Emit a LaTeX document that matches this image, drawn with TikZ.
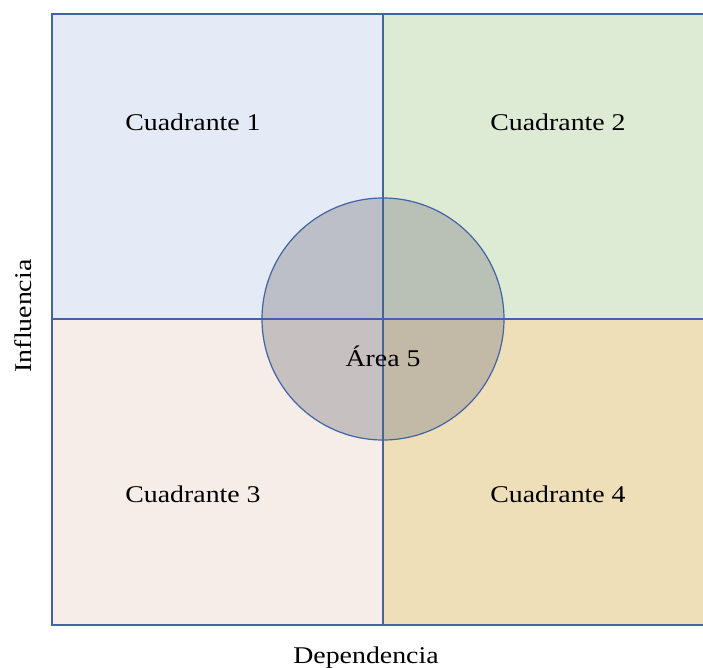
\documentclass[tikz,border=0pt]{standalone}
\usepackage{fontspec}
\setmainfont[FakeStretch=1.16]{Liberation Serif}
\definecolor{qone}{RGB}{228,234,246}
\definecolor{qtwo}{RGB}{222,235,212}
\definecolor{qthree}{RGB}{246,236,232}
\definecolor{qfour}{RGB}{239,223,184}
\definecolor{lineblue}{RGB}{66,100,166}
\definecolor{circgray}{RGB}{140,140,146}
\begin{document}
\begin{tikzpicture}[x=1pt,y=1pt,
  lbl/.style={font=\fontsize{24}{28}\selectfont, inner sep=0pt, anchor=base, text=black},
  axis/.style={draw=lineblue, line width=2pt},
  mid/.style={draw=lineblue, line width=1.2pt}]
\useasboundingbox (0,0) rectangle (703,667);
% quadrants
\fill[qone]   (52,348) rectangle (383,653);
\fill[qtwo]   (383,348) rectangle (703,653);
\fill[qthree] (52,42) rectangle (383,348);
\fill[qfour]  (383,42) rectangle (703,348);
% circle area
\fill[circgray, fill opacity=0.45] (383,348) circle (121);
% lines
\coordinate (tl) at (52,653);
\coordinate (tr) at (704,653);
\coordinate (bl) at (52,42);
\coordinate (br) at (704,42);
\coordinate (mt) at (383,653);
\coordinate (mb) at (383,42);
\coordinate (ml) at (52,348);
\coordinate (mr) at (704,348);
\draw[mid] (mt) -- (mb);
\draw[mid] (ml) -- (mr);
\draw[axis] (tr) -- (tl) -- (bl) -- (br);
\node[draw=lineblue, line width=1.2pt, circle, minimum size=242pt, inner sep=0pt] (c5) at (383,348) {};
% labels
\node[lbl] (q1) at (193,536) {Cuadrante 1};
\node[lbl] (q2) at (558,536) {Cuadrante 2};
\node[lbl] (q3) at (193,165) {Cuadrante 3};
\node[lbl] (q4) at (558,165) {Cuadrante 4};
\node[lbl] (a5) at (383,300) {Área 5};
\node[lbl] (xl) at (366,4) {Dependencia};
\node[font=\fontsize{24}{28}\selectfont, inner sep=0pt, rotate=90] (yl) at (23,351) {Influencia};
\end{tikzpicture}
\end{document}
